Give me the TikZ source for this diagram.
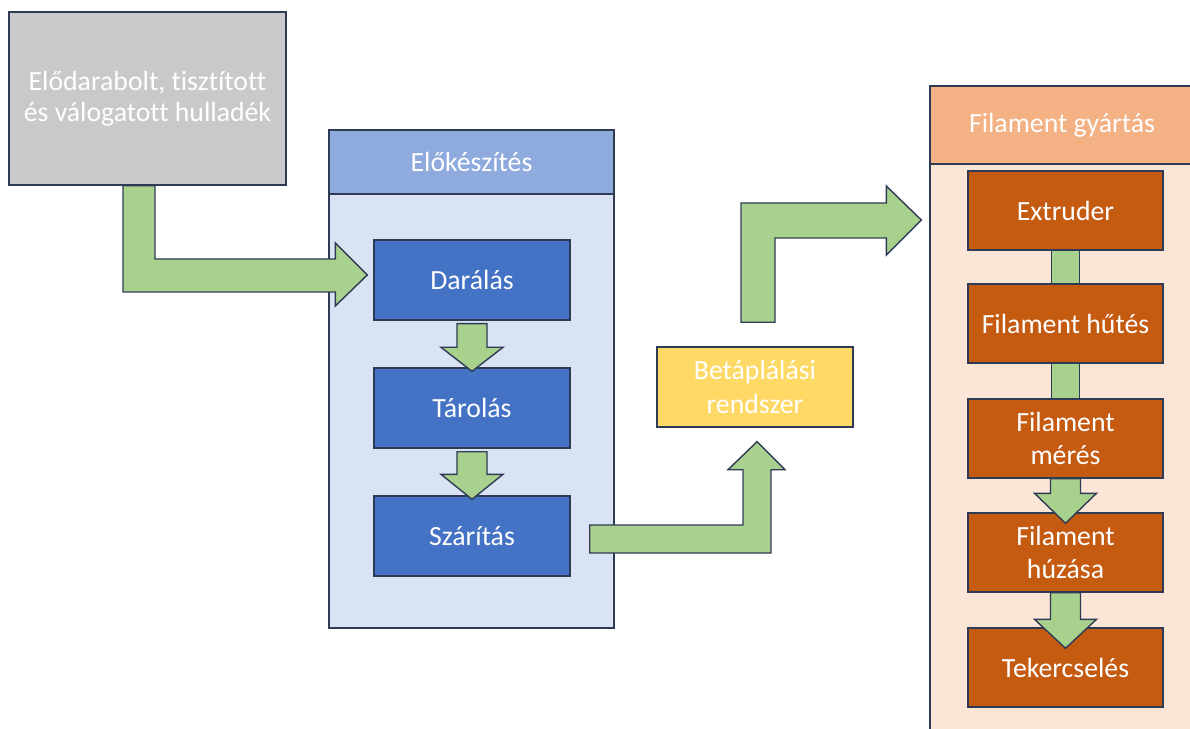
\documentclass[tikz,border=0pt]{standalone}
\usepackage{fontspec}
\setmainfont{Carlito}[Ligatures=NoCommon]
\usetikzlibrary{calc}
\definecolor{bordc}{HTML}{2F3B55}
\definecolor{grayf}{HTML}{C9C9C9}
\definecolor{bluehead}{HTML}{8FAADC}
\definecolor{bluebody}{HTML}{DAE3F3}
\definecolor{bluebox}{HTML}{4472C4}
\definecolor{yellowf}{HTML}{FFD966}
\definecolor{greenf}{HTML}{A9D18E}
\definecolor{orhead}{HTML}{F4B183}
\definecolor{orbody}{HTML}{FBE5D6}
\definecolor{orbox}{HTML}{C55A11}
\tikzset{
  base/.style={draw=bordc, line width=0.8pt, inner sep=0pt, align=center, text=white,
    font=\fontsize{15.8}{19.3}\selectfont},
  graybox/.style={base, fill=grayf, minimum width=277*0.02cm, minimum height=173*0.02cm},
  headbox/.style={base, minimum height=64*0.02cm},
  bluestep/.style={base, fill=bluebox, minimum width=196*0.02cm, minimum height=80*0.02cm},
  orstep/.style={base, fill=orbox, minimum width=195*0.02cm, minimum height=79*0.02cm},
  feedbox/.style={base, fill=yellowf, minimum width=196*0.02cm, minimum height=80*0.02cm},
  fatarrow/.style={draw=bordc, line width=0.8pt, fill=greenf, line join=miter},
}
\begin{document}
\begin{tikzpicture}[x=0.02cm, y=-0.02cm]
\useasboundingbox (0,0) rectangle (1190,729);
\clip (0,0) rectangle (1190,729);

% containers
\draw[base, fill=bluebody] (329,194) rectangle (614,628);
\node[headbox, fill=bluehead, minimum width=285*0.02cm] (prep) at (471.5,162) {Előkészítés};
\draw[base, fill=orbody] (930,164) rectangle (1194,760);
\node[headbox, fill=orhead, minimum width=264*0.02cm, minimum height=78*0.02cm] (fil) at (1062,125) {Filament gyártás};

% nodes
\node[graybox] (waste) at (147.5,98.5) {\raisebox{-4pt}{\shortstack{Elődarabolt, tisztított\\[1.5pt]és válogatott hulladék}}};
\node[bluestep] (dar) at (472,280) {Darálás};
\node[bluestep] (tar) at (472,408) {Tárolás};
\node[bluestep] (sza) at (472,536) {Szárítás};
\node[feedbox] (bet) at (755,387) {Betáplálási\\rendszer};
\node[orstep] (ext) at (1065.5,210.5) {Extruder};
\node[orstep] (hut) at (1065.5,323.5) {Filament hűtés};
\node[orstep] (mer) at (1065.5,438.5) {Filament\\mérés};
\node[orstep] (huz) at (1065.5,552.5) {Filament\\húzása};
\node[orstep] (tek) at (1065.5,667.5) {Tekercselés};

% vertical down arrows: from, to, start offset, head base offset, tip offset
\newcommand\dnarr[5]{%
  \draw[fatarrow] ($(#1.south)+(-15,#3)$) -- ($(#2.north)+(-15,#4)$) -- ($(#2.north)+(-31,#4)$)
    -- ($(#2.north)+(0,#5)$) -- ($(#2.north)+(31,#4)$) -- ($(#2.north)+(15,#4)$)
    -- ($(#1.south)+(15,#3)$) -- cycle;}
\dnarr{dar}{tar}{3}{-20}{4}
\dnarr{tar}{sza}{3}{-21}{4}
\dnarr{mer}{huz}{0}{-19}{11}
\dnarr{huz}{tek}{0}{-8}{21}

% shaft-only connectors
\draw[fatarrow] ($(ext.south)+(-14,0)$) rectangle ($(hut.north)+(14,0)$);
\draw[fatarrow] ($(hut.south)+(-14,0)$) rectangle ($(mer.north)+(14,0)$);

% bent arrow: waste -> Darálás
\coordinate (A1a) at ($(waste.south)+(-24.5,0)$);
\coordinate (A1b) at ($(waste.south)+(7.5,0)$);
\coordinate (T1) at ($(dar.west)+(-6,-5)$);
\coordinate (S1a) at ($(T1)+(-32,17)$);
\coordinate (S1b) at ($(T1)+(-32,-16)$);
\draw[fatarrow] (A1a) -- (A1a |- S1a) -- (S1a) -- ($(T1)+(-32,31)$) -- (T1)
  -- ($(T1)+(-32,-32)$) -- (S1b) -- (A1b |- S1b) -- (A1b) -- cycle;

% bent arrow: Szárítás -> Betáplálási
\coordinate (T2) at ($(bet.south)+(2,14)$);
\coordinate (S2a) at ($(sza.east)+(19,-11)$);
\coordinate (S2b) at ($(sza.east)+(19,17)$);
\coordinate (V2a) at ($(T2)+(-14,0)$);
\coordinate (V2b) at ($(T2)+(14,0)$);
\draw[fatarrow] (S2a) -- (V2a |- S2a) -- ($(T2)+(-14,28)$) -- ($(T2)+(-29,28)$) -- (T2)
  -- ($(T2)+(28,28)$) -- ($(T2)+(14,28)$) -- (V2b |- S2b) -- (S2b) -- cycle;

% bent arrow: Betáplálási -> Filament gyártás
\coordinate (T3) at ($(ext.west)+(-46,9.5)$);
\coordinate (B3a) at ($(bet.north)+(-14,-24)$);
\coordinate (B3b) at ($(bet.north)+(20,-24)$);
\coordinate (H3a) at ($(T3)+(-35,-17)$);
\coordinate (H3b) at ($(T3)+(-35,18)$);
\draw[fatarrow] (B3a) -- (B3a |- H3a) -- (H3a) -- ($(T3)+(-35,-34)$) -- (T3)
  -- ($(T3)+(-35,35)$) -- (H3b) -- (B3b |- H3b) -- (B3b) -- cycle;
\end{tikzpicture}
\end{document}
